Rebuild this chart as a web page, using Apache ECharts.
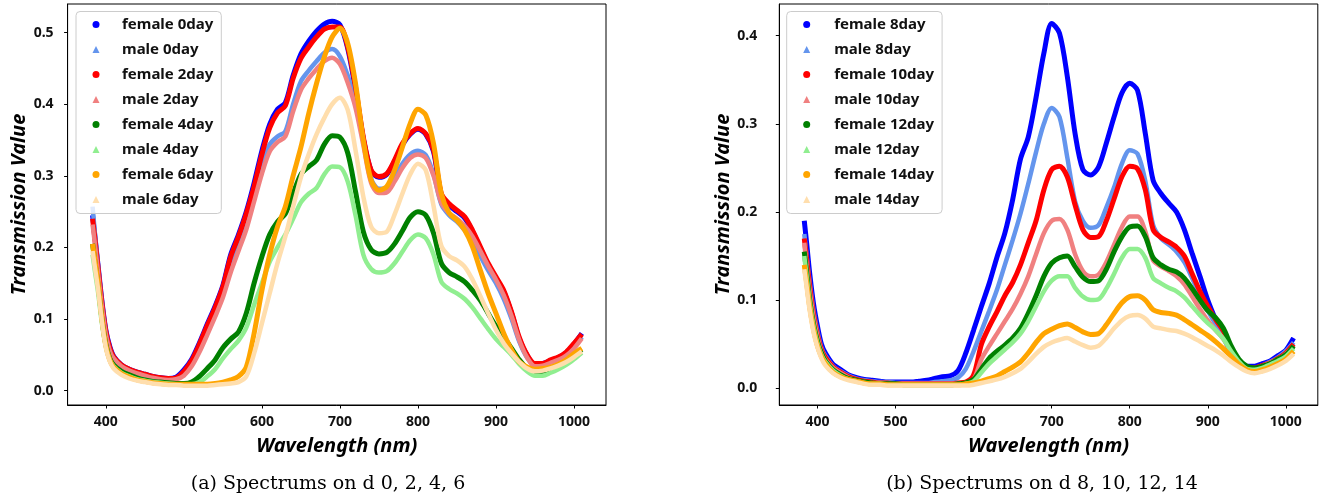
<!DOCTYPE html>
<html>
<head>
<meta charset="utf-8">
<script src="https://cdn.jsdelivr.net/npm/echarts@6/dist/echarts.min.js"></script>
<style>
html,body{margin:0;padding:0;background:#fff;}
#c{width:1325px;height:502px;}
</style>
</head>
<body>
<div id="c"></div>
<script>
// ---- data ----
const wavelengths = [383,386,390,395,400,405,410,420,430,440,450,460,470,480,490,500,510,520,530,540,550,560,570,580,590,600,610,620,630,640,650,660,670,680,690,700,710,720,730,740,750,760,770,780,790,800,810,820,830,840,850,860,870,880,890,900,910,920,930,940,950,960,970,980,990,1000,1010];

const xTicks = [400,500,600,700,800,900,1000];
const yTicksA = [0,0.1,0.2,0.3,0.4,0.5];
const yTicksB = [0,0.1,0.2,0.3,0.4];

const namesA = ['female 0day','male 0day','female 2day','male 2day','female 4day','male 4day','female 6day','male 6day'];
const namesB = ['female 8day','male 8day','female 10day','male 10day','female 12day','male 12day','female 14day','male 14day'];

const female0 = [0.245,0.215,0.175,0.125,0.085,0.062,0.048,0.036,0.030,0.026,0.023,0.020,0.018,0.017,0.019,0.029,0.044,0.067,0.093,0.118,0.147,0.190,0.218,0.250,0.290,0.335,0.372,0.393,0.402,0.440,0.470,0.488,0.502,0.512,0.516,0.511,0.478,0.420,0.352,0.307,0.298,0.302,0.320,0.343,0.358,0.365,0.358,0.334,0.273,0.259,0.250,0.241,0.222,0.199,0.176,0.157,0.138,0.108,0.072,0.049,0.037,0.038,0.042,0.046,0.053,0.065,0.080];
const male0 = [0.257,0.220,0.175,0.123,0.082,0.058,0.046,0.035,0.029,0.025,0.022,0.019,0.017,0.016,0.017,0.024,0.038,0.058,0.083,0.108,0.135,0.172,0.203,0.233,0.272,0.315,0.344,0.355,0.362,0.400,0.432,0.447,0.460,0.472,0.477,0.467,0.440,0.404,0.350,0.296,0.282,0.283,0.298,0.317,0.330,0.335,0.329,0.302,0.260,0.245,0.236,0.224,0.208,0.188,0.168,0.150,0.128,0.100,0.068,0.046,0.035,0.036,0.040,0.044,0.050,0.060,0.075];
const female2 = [0.240,0.212,0.172,0.122,0.083,0.060,0.047,0.036,0.030,0.026,0.023,0.020,0.018,0.017,0.018,0.027,0.042,0.065,0.091,0.116,0.145,0.187,0.215,0.247,0.285,0.330,0.367,0.388,0.398,0.436,0.464,0.480,0.494,0.505,0.508,0.508,0.480,0.424,0.354,0.308,0.299,0.303,0.322,0.345,0.359,0.366,0.359,0.336,0.275,0.261,0.252,0.243,0.224,0.201,0.178,0.159,0.140,0.110,0.074,0.050,0.038,0.038,0.043,0.047,0.054,0.066,0.079];
const male2 = [0.232,0.205,0.165,0.117,0.079,0.056,0.045,0.034,0.028,0.024,0.021,0.018,0.016,0.015,0.016,0.021,0.034,0.054,0.078,0.103,0.130,0.165,0.195,0.225,0.264,0.303,0.334,0.347,0.355,0.390,0.420,0.436,0.449,0.460,0.465,0.456,0.430,0.395,0.343,0.290,0.276,0.277,0.292,0.311,0.325,0.330,0.325,0.300,0.262,0.248,0.240,0.230,0.215,0.195,0.174,0.155,0.133,0.104,0.070,0.046,0.034,0.035,0.039,0.043,0.049,0.059,0.073];
const female4 = [0.205,0.180,0.148,0.100,0.065,0.045,0.036,0.027,0.022,0.018,0.015,0.013,0.012,0.011,0.010,0.010,0.012,0.020,0.031,0.043,0.060,0.072,0.082,0.108,0.150,0.187,0.218,0.236,0.247,0.275,0.302,0.313,0.322,0.344,0.356,0.354,0.332,0.278,0.222,0.197,0.191,0.193,0.205,0.223,0.242,0.250,0.245,0.220,0.178,0.165,0.159,0.152,0.140,0.126,0.108,0.090,0.075,0.059,0.043,0.031,0.026,0.027,0.030,0.035,0.042,0.050,0.058];
const male4 = [0.190,0.167,0.138,0.094,0.062,0.043,0.034,0.025,0.020,0.016,0.014,0.012,0.011,0.010,0.009,0.009,0.009,0.012,0.020,0.030,0.045,0.058,0.070,0.088,0.120,0.150,0.180,0.200,0.218,0.240,0.263,0.275,0.283,0.302,0.313,0.312,0.292,0.245,0.190,0.170,0.165,0.167,0.178,0.194,0.210,0.218,0.213,0.190,0.152,0.142,0.136,0.128,0.116,0.101,0.086,0.072,0.061,0.050,0.037,0.027,0.021,0.021,0.025,0.030,0.036,0.044,0.053];
const female6 = [0.205,0.182,0.150,0.100,0.063,0.043,0.033,0.024,0.019,0.015,0.013,0.011,0.010,0.009,0.009,0.009,0.009,0.009,0.009,0.010,0.012,0.015,0.020,0.033,0.080,0.140,0.190,0.229,0.257,0.300,0.340,0.387,0.429,0.466,0.494,0.506,0.485,0.429,0.350,0.294,0.280,0.285,0.308,0.340,0.373,0.393,0.385,0.345,0.275,0.248,0.238,0.224,0.201,0.168,0.136,0.108,0.080,0.057,0.040,0.033,0.030,0.031,0.033,0.037,0.043,0.052,0.059];
const male6 = [0.195,0.172,0.142,0.096,0.060,0.041,0.031,0.022,0.017,0.014,0.012,0.010,0.009,0.008,0.008,0.007,0.007,0.007,0.007,0.008,0.009,0.010,0.012,0.020,0.052,0.094,0.136,0.178,0.215,0.257,0.298,0.330,0.358,0.381,0.400,0.409,0.392,0.336,0.271,0.229,0.220,0.222,0.246,0.275,0.302,0.317,0.308,0.258,0.202,0.188,0.182,0.173,0.155,0.132,0.108,0.085,0.066,0.052,0.040,0.031,0.027,0.028,0.031,0.035,0.040,0.047,0.055];

const female8 = [0.190,0.165,0.130,0.095,0.070,0.050,0.040,0.027,0.021,0.015,0.012,0.010,0.009,0.008,0.007,0.007,0.007,0.007,0.008,0.009,0.011,0.013,0.014,0.020,0.040,0.066,0.093,0.119,0.149,0.176,0.214,0.260,0.285,0.330,0.380,0.414,0.403,0.354,0.289,0.248,0.242,0.251,0.278,0.308,0.335,0.346,0.338,0.289,0.236,0.221,0.210,0.200,0.180,0.153,0.127,0.100,0.078,0.059,0.040,0.030,0.025,0.025,0.028,0.031,0.037,0.043,0.057];
const male8 = [0.175,0.150,0.120,0.087,0.064,0.046,0.037,0.025,0.019,0.014,0.011,0.009,0.008,0.007,0.007,0.006,0.006,0.006,0.006,0.006,0.007,0.008,0.009,0.012,0.022,0.042,0.065,0.088,0.112,0.140,0.168,0.198,0.232,0.268,0.300,0.318,0.308,0.262,0.212,0.190,0.182,0.185,0.205,0.228,0.255,0.270,0.266,0.235,0.185,0.170,0.163,0.155,0.143,0.125,0.105,0.088,0.073,0.060,0.043,0.030,0.023,0.023,0.026,0.030,0.035,0.042,0.052];
const female10 = [0.170,0.147,0.115,0.083,0.060,0.044,0.035,0.024,0.018,0.013,0.010,0.008,0.007,0.006,0.006,0.005,0.005,0.005,0.005,0.005,0.005,0.005,0.005,0.006,0.007,0.015,0.050,0.070,0.087,0.105,0.120,0.140,0.165,0.190,0.225,0.248,0.252,0.240,0.208,0.180,0.171,0.172,0.190,0.215,0.240,0.252,0.249,0.225,0.180,0.171,0.166,0.160,0.150,0.130,0.110,0.093,0.078,0.065,0.043,0.030,0.024,0.023,0.026,0.029,0.034,0.040,0.050];
const male10 = [0.165,0.140,0.110,0.080,0.058,0.042,0.033,0.023,0.017,0.012,0.009,0.007,0.006,0.006,0.005,0.005,0.005,0.005,0.005,0.005,0.005,0.005,0.005,0.005,0.006,0.010,0.033,0.048,0.062,0.076,0.090,0.107,0.127,0.152,0.176,0.190,0.192,0.180,0.152,0.133,0.127,0.129,0.143,0.163,0.183,0.195,0.195,0.178,0.145,0.138,0.133,0.127,0.118,0.104,0.090,0.077,0.066,0.056,0.041,0.030,0.023,0.022,0.025,0.029,0.033,0.039,0.048];
const female12 = [0.155,0.132,0.100,0.072,0.053,0.040,0.031,0.021,0.015,0.011,0.009,0.007,0.006,0.005,0.005,0.005,0.004,0.004,0.004,0.004,0.004,0.004,0.004,0.005,0.006,0.010,0.022,0.034,0.042,0.049,0.057,0.068,0.085,0.105,0.127,0.142,0.148,0.150,0.138,0.126,0.121,0.122,0.135,0.155,0.172,0.183,0.184,0.172,0.148,0.140,0.135,0.132,0.125,0.113,0.100,0.088,0.080,0.068,0.048,0.033,0.025,0.023,0.025,0.028,0.033,0.038,0.048];
const male12 = [0.150,0.127,0.097,0.070,0.051,0.038,0.030,0.020,0.014,0.010,0.008,0.006,0.005,0.005,0.004,0.004,0.004,0.004,0.004,0.004,0.004,0.004,0.004,0.004,0.005,0.008,0.018,0.028,0.036,0.044,0.052,0.062,0.076,0.093,0.110,0.122,0.127,0.127,0.114,0.104,0.100,0.101,0.113,0.130,0.148,0.158,0.158,0.148,0.125,0.119,0.114,0.110,0.103,0.093,0.083,0.074,0.066,0.056,0.042,0.030,0.022,0.021,0.023,0.027,0.031,0.036,0.045];
const female14 = [0.140,0.120,0.092,0.066,0.048,0.036,0.028,0.018,0.013,0.010,0.008,0.006,0.005,0.005,0.004,0.004,0.004,0.004,0.004,0.004,0.004,0.004,0.004,0.004,0.005,0.006,0.008,0.011,0.014,0.019,0.024,0.030,0.040,0.052,0.062,0.067,0.071,0.073,0.069,0.064,0.061,0.062,0.072,0.085,0.097,0.104,0.105,0.100,0.089,0.086,0.085,0.083,0.078,0.072,0.066,0.060,0.053,0.045,0.036,0.027,0.021,0.019,0.021,0.024,0.028,0.033,0.042];
const male14 = [0.135,0.115,0.088,0.063,0.046,0.034,0.026,0.017,0.012,0.009,0.007,0.005,0.004,0.004,0.003,0.003,0.003,0.003,0.003,0.003,0.003,0.003,0.003,0.003,0.003,0.004,0.006,0.008,0.010,0.013,0.017,0.022,0.030,0.039,0.047,0.052,0.055,0.057,0.053,0.049,0.046,0.048,0.057,0.068,0.077,0.082,0.083,0.079,0.070,0.068,0.066,0.065,0.062,0.058,0.053,0.048,0.043,0.037,0.030,0.024,0.019,0.017,0.019,0.022,0.026,0.031,0.039];

const valuesA = [female0, male0, female2, male2, female4, male4, female6, male6];
const valuesB = [female8, male8, female10, male10, female12, male12, female14, male14];
const colors = ['#0000ff','#6495ed','#ff0000','#f08080','#008000','#90ee90','#ffa500','#ffdead'];

const captionA = '(a) Spectrums on d 0, 2, 4, 6';
const captionB = '(b) Spectrums on d 8, 10, 12, 14';

// ---- chart ----
const FONT = "'Noto Sans', 'Open Sans', sans-serif";
const chart = echarts.init(document.getElementById('c'), null, {renderer: 'canvas'});

function makeSeries(names, values, gi) {
  return names.map((n, i) => ({
    name: n,
    type: 'line',
    xAxisIndex: gi,
    yAxisIndex: gi,
    data: wavelengths.map((w, k) => [w, values[i][k]]),
    showSymbol: false,
    smooth: 0.3,
    color: colors[i],
    lineStyle: {width: i % 2 === 0 ? 5 : 4.5, color: colors[i]},
    itemStyle: {color: colors[i]},
    emphasis: {disabled: true},
    silent: true,
    animation: false
  }));
}

function makeLegend(names, left, padLeft, textPad) {
  return {
    orient: 'vertical',
    left: left,
    top: 11.5,
    data: names.map((n, i) => ({name: n, icon: i % 2 === 0 ? 'circle' : 'triangle'})),
    itemWidth: 7,
    itemHeight: 7,
    itemGap: 9,
    padding: [5, 8, 6, padLeft],
    backgroundColor: 'rgba(255,255,255,0.8)',
    borderColor: '#cccccc',
    borderWidth: 1,
    borderRadius: 4,
    itemStyle: {borderWidth: 0},
    selectedMode: false,
    textStyle: {fontFamily: FONT, fontWeight: 'bold', fontSize: 15, color: '#111', lineHeight: 16, padding: [0, 0, 0, textPad]}
  };
}

function xAx(gi) {
  return {
    gridIndex: gi, type: 'value', min: 351, max: 1041,
    axisLine: {show: true, onZero: false, lineStyle: {color: '#000', width: 1}},
    axisTick: {show: true, length: 3.5, customValues: xTicks, lineStyle: {color: '#000'}},
    axisLabel: {customValues: xTicks, margin: 10, fontFamily: FONT, fontWeight: 'bold', fontSize: 14, color: '#111',
      formatter: v => String(v)},
    splitLine: {show: false},
    name: 'Wavelength (nm)', nameLocation: 'middle', nameGap: 31,
    nameTextStyle: {fontFamily: FONT, fontWeight: 'bold', fontStyle: 'italic', fontSize: 20, color: '#000'}
  };
}
function yAx(gi, min, max, ticks, gap, margin) {
  return {
    gridIndex: gi, type: 'value', min: min, max: max,
    axisLine: {show: true, onZero: false, lineStyle: {color: '#000', width: 1}},
    axisTick: {show: true, length: 3.5, customValues: ticks, lineStyle: {color: '#000'}},
    axisLabel: {customValues: ticks, margin: margin, fontFamily: FONT, fontWeight: 'bold', fontSize: 14, color: '#111',
      formatter: v => v.toFixed(1)},
    splitLine: {show: false},
    name: 'Transmission Value', nameLocation: 'middle', nameGap: gap, nameRotate: 90,
    nameTextStyle: {fontFamily: FONT, fontWeight: 'bold', fontStyle: 'italic', fontSize: 20, color: '#000'}
  };
}

const option = {
  backgroundColor: '#fff',
  animation: false,
  grid: [
    {left: 67.6, top: 4, width: 538.4, height: 401, show: true, borderColor: '#000', borderWidth: 1, backgroundColor: 'transparent'},
    {left: 779.3, top: 4, width: 538.5, height: 401, show: true, borderColor: '#000', borderWidth: 1, backgroundColor: 'transparent'}
  ],
  xAxis: [xAx(0), xAx(1)],
  yAxis: [yAx(0, -0.02, 0.54, yTicksA, 31.5, 14), yAx(1, -0.019, 0.436, yTicksB, 41.5, 22)],
  legend: [makeLegend(namesA, 76, 16.5, 17.5), makeLegend(namesB, 786.7, 16.5, 19)],
  series: [...makeSeries(namesA, valuesA, 0), ...makeSeries(namesB, valuesB, 1)],
  graphic: [
    {type: 'text', style: {text: captionA, x: 328, y: 484, align: 'center', verticalAlign: 'middle',
      font: "19px 'DejaVu Serif', serif", fill: '#000'}},
    {type: 'text', style: {text: captionB, x: 1042, y: 484, align: 'center', verticalAlign: 'middle',
      font: "19px 'DejaVu Serif', serif", fill: '#000'}}
  ]
};
chart.setOption(option);
</script>
</body>
</html>
